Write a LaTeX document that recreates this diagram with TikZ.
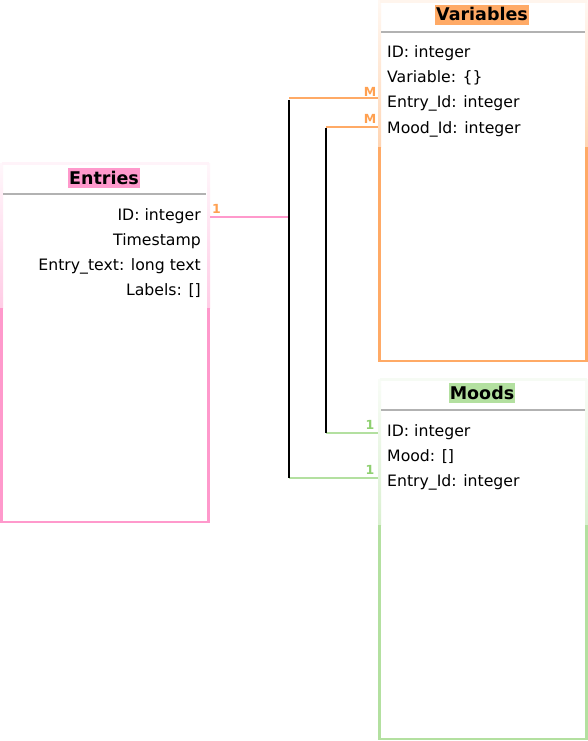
\documentclass[tikz,border=0pt]{standalone}
\usepackage{fontspec}
\setmainfont{DejaVu Sans}
\definecolor{pinkc}{HTML}{FF99CC}
\definecolor{orangec}{HTML}{FFAA66}
\definecolor{greenc}{HTML}{B3E0A0}
\definecolor{orangetxt}{HTML}{FFA050}
\definecolor{greentxt}{HTML}{8FD070}
\begin{document}
\begin{tikzpicture}[x=1pt,y=-1pt,
  rowtxt/.style={font=\fontsize{15.7}{18}\selectfont, inner sep=0pt},
  titletxt/.style={font=\fontsize{17.5}{20}\selectfont\bfseries, inner xsep=1pt, inner ysep=0pt, text height=16pt, text depth=4pt},
  card/.style={font=\fontsize{12.5}{13}\selectfont\bfseries, inner sep=0pt},
  sepline/.style={draw=black!30, line width=1.2pt},
  spine/.style={line width=1.6pt, black},
  lnk/.style={line width=1.6pt}
]
\useasboundingbox (0,0) rectangle (588,741);
\fill[white] (0,0) rectangle (588,741);

% ---------- Entries ----------
\shade[top color=pinkc!8, bottom color=pinkc!50] (0,163) rectangle (3,308);
\shade[top color=pinkc!8, bottom color=pinkc!50] (207,163) rectangle (210,308);
\draw[pinkc!12, line width=2.5pt] (1.5,163.5) -- (208.5,163.5);
\draw[pinkc, line width=2.8pt] (1.5,308) -- (1.5,522) -- (208.5,522) -- (208.5,308);
\node[titletxt, fill=pinkc, anchor=base] (entT) at (104,184) {Entries};
\draw[sepline] (3,194) -- (206,194);
\node[rowtxt, anchor=base east] (entID) at (201,220) {ID: integer};
\node[rowtxt, anchor=base east] (entTS) at (201,245) {Timestamp};
\node[rowtxt, anchor=base east] (entTX) at (201,270) {Entry\_text: long text};
\node[rowtxt, anchor=base east] (entLB) at (201,295) {Labels: []};

% ---------- Variables ----------
\shade[top color=orangec!8, bottom color=orangec!50] (378,1) rectangle (381,147);
\shade[top color=orangec!8, bottom color=orangec!50] (585,1) rectangle (588,147);
\draw[orangec!12, line width=2.5pt] (379.5,1.5) -- (586.5,1.5);
\draw[orangec, line width=2.8pt] (379.5,147) -- (379.5,361) -- (586.5,361) -- (586.5,147);
\node[titletxt, fill=orangec, anchor=base] (varT) at (482,21) {Variables};
\draw[sepline] (381,32) -- (585,32);
\node[rowtxt, anchor=base west] (varID) at (387,58) {ID: integer};
\node[rowtxt, anchor=base west] (varVR) at (387,83) {Variable: \{\}};
\node[rowtxt, anchor=base west] (varEN) at (387,108) {Entry\_Id: integer};
\node[rowtxt, anchor=base west] (varMD) at (387,133) {Mood\_Id: integer};

% ---------- Moods ----------
\shade[top color=greenc!8, bottom color=greenc!50] (378,379) rectangle (381,525);
\shade[top color=greenc!8, bottom color=greenc!50] (585,379) rectangle (588,525);
\draw[greenc!12, line width=2.5pt] (379.5,379.5) -- (586.5,379.5);
\draw[greenc, line width=2.8pt] (379.5,525) -- (379.5,739) -- (586.5,739) -- (586.5,525);
\node[titletxt, fill=greenc, anchor=base] (mooT) at (482,399) {Moods};
\draw[sepline] (381,410) -- (585,410);
\node[rowtxt, anchor=base west] (mooID) at (387,436) {ID: integer};
\node[rowtxt, anchor=base west] (mooMD) at (387,461) {Mood: []};
\node[rowtxt, anchor=base west] (mooEN) at (387,486) {Entry\_Id: integer};

% ---------- connector points ----------
\coordinate (pE) at (210,217);
\coordinate (j1) at (289,217);
\coordinate (s1t) at (289,100);
\coordinate (s1b) at (289,478);
\coordinate (o1a) at (289,98);
\coordinate (o1b) at (378,98);
\coordinate (g1a) at (289,478);
\coordinate (g1b) at (378,478);
\coordinate (s2t) at (326,128);
\coordinate (s2b) at (326,433);
\coordinate (o2a) at (326,127);
\coordinate (o2b) at (378,127);
\coordinate (g2a) at (326,433);
\coordinate (g2b) at (378,433);

\draw[lnk, pinkc] (pE) -- (j1);
\draw[lnk, orangec] (o1a) -- (o1b);
\draw[lnk, orangec] (o2a) -- (o2b);
\draw[lnk, greenc] (g1a) -- (g1b);
\draw[lnk, greenc] (g2a) -- (g2b);
\draw[spine] (s1t) -- (s1b);
\draw[spine] (s2t) -- (s2b);

\node[card, text=orangetxt] (c1) at (216.5,208.5) {1};
\node[card, text=orangetxt] (cM1) at (370,91.5) {M};
\node[card, text=orangetxt] (cM2) at (370,119) {M};
\node[card, text=greentxt] (cG2) at (370,424.5) {1};
\node[card, text=greentxt] (cG1) at (370,469.5) {1};
\end{tikzpicture}
\end{document}
